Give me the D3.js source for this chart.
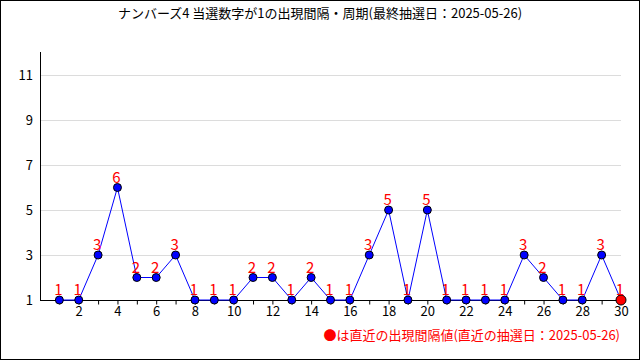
<!DOCTYPE html>
<html>
<head>
<meta charset="utf-8">
<script src="https://cdn.jsdelivr.net/npm/d3@7"></script>
<style>
  body { margin: 0; background: #fff; }
  svg { display: block; font-family: "Noto Sans CJK JP", "DejaVu Sans", sans-serif; }
</style>
</head>
<body>
<div id="chart"></div>
<script>
var title = 'ナンバーズ4 当選数字が1の出現間隔・周期(最終抽選日：2025-05-26)';
var note = '●は直近の出現間隔値(直近の抽選日：2025-05-26)';
var draws = d3.range(1, 31);
var intervals = [1, 1, 3, 6, 2, 2, 3, 1, 1, 1, 2, 2, 1, 2, 1, 1, 3, 5, 1, 5, 1, 1, 1, 1, 3, 2, 1, 1, 3, 1];
var yTicks = [1, 3, 5, 7, 9, 11];
var xLabels = [2, 4, 6, 8, 10, 12, 14, 16, 18, 20, 22, 24, 26, 28, 30];

(function() {
  'use strict';
  var width = 640;
  var height = 360;

  var svg = d3.select('#chart')
    .append('svg')
    .attr('width', width)
    .attr('height', height);

  // outer frame
  svg.append('rect')
    .attr('x', 0.5).attr('y', 0.5)
    .attr('width', width - 1).attr('height', height - 1)
    .attr('fill', '#fff')
    .attr('stroke', '#000');

  svg.append('text')
    .attr('x', 320)
    .attr('y', 18)
    .attr('text-anchor', 'middle')
    .style('font-size', '13px')
    .attr('fill', '#000')
    .text(title);

  var x = d3.scaleLinear().domain([0, 30]).range([40, 621]);
  var y = d3.scaleLinear().domain([1, 12]).range([300, 52.5]);

  // grid
  svg.selectAll('.grid')
    .data(yTicks.slice(1))
    .enter()
    .append('line')
    .attr('x1', 41).attr('x2', 621)
    .attr('y1', function(d) { return Math.round(y(d)) + 0.5; })
    .attr('y2', function(d) { return Math.round(y(d)) + 0.5; })
    .attr('stroke', '#dcdcdc');

  // y labels
  svg.selectAll('.ylab')
    .data(yTicks)
    .enter()
    .append('text')
    .attr('x', 33)
    .attr('y', function(d) { return y(d) + 5; })
    .attr('text-anchor', 'end')
    .style('font-size', '13px')
    .attr('fill', '#000')
    .text(function(d) { return d; });

  // x axis
  var xAxis = d3.axisBottom(x)
    .tickValues(draws)
    .tickSize(4)
    .tickFormat(function(d) { return xLabels.indexOf(d) >= 0 ? d : ''; });
  var gx = svg.append('g')
    .attr('transform', 'translate(0,300.5)')
    .call(xAxis);
  gx.select('.domain').remove();
  gx.selectAll('text')
    .style('font-size', '13px')
    .style('font-family', '"Noto Sans CJK JP", "DejaVu Sans", sans-serif')
    .attr('fill', '#000')
    .attr('y', 6);
  gx.selectAll('line').attr('stroke', '#000');

  svg.append('line')
    .attr('x1', 40).attr('x2', 621)
    .attr('y1', 300.5).attr('y2', 300.5)
    .attr('stroke', '#000');
  svg.append('line')
    .attr('x1', 40.5).attr('x2', 40.5)
    .attr('y1', 52).attr('y2', 301)
    .attr('stroke', '#000');

  var line = d3.line()
    .x(function(d, i) { return x(draws[i]); })
    .y(function(d) { return y(d); });

  svg.append('path')
    .datum(intervals)
    .attr('d', line)
    .attr('fill', 'none')
    .attr('stroke', '#0000ff')
    .attr('stroke-width', 1);

  var last = intervals.length - 1;
  svg.selectAll('.pt')
    .data(intervals)
    .enter()
    .append('circle')
    .attr('cx', function(d, i) { return x(draws[i]); })
    .attr('cy', function(d) { return y(d); })
    .attr('r', function(d, i) { return i === last ? 5 : 4; })
    .attr('fill', function(d, i) { return i === last ? '#ff0000' : '#0000ff'; })
    .attr('stroke', '#000')
    .attr('stroke-width', 1);

  svg.selectAll('.val')
    .data(intervals)
    .enter()
    .append('text')
    .attr('x', function(d, i) { return x(draws[i]) - 1; })
    .attr('y', function(d) { return y(d) - 5; })
    .attr('text-anchor', 'middle')
    .style('font-size', '15px')
    .attr('fill', '#ff0000')
    .text(function(d) { return d; });

  svg.append('text')
    .attr('x', 620)
    .attr('y', 340)
    .attr('text-anchor', 'end')
    .style('font-size', '13px')
    .attr('fill', '#ff0000')
    .text(note);
})();
</script>
</body>
</html>
